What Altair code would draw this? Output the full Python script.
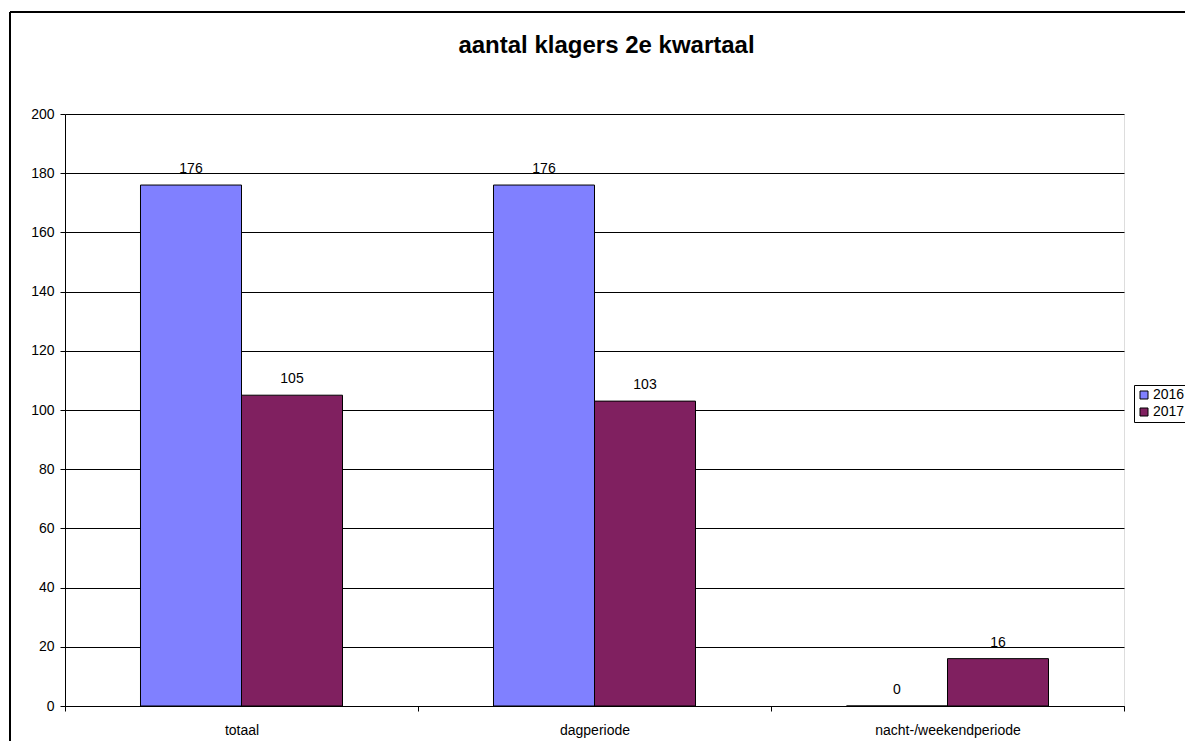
import altair as alt
import pandas as pd

categories = ["totaal", "dagperiode", "nacht-/weekendperiode"]
years = ["2016", "2017"]
v2016 = [176, 176, 0]
v2017 = [105, 103, 16]
colors = ["#8080FF", "#802060"]
y_ticks = [0, 20, 40, 60, 80, 100, 120, 140, 160, 180, 200]

rows = []
for c, a, b in zip(categories, v2016, v2017):
    rows.append({"category": c, "year": "2016", "value": a})
    rows.append({"category": c, "year": "2017", "value": b})
df = pd.DataFrame(rows)

FONT = "Liberation Sans"

x_enc = alt.X("category:N", sort=categories,
              scale=alt.Scale(paddingInner=0, paddingOuter=0),
              axis=alt.Axis(title=None, labelAngle=0, tickBand="extent",
                            domainColor="black", tickColor="black", tickSize=5,
                            labelPadding=12, grid=False, labelFontSize=14,
                            labelFont=FONT, labelColor="black"))
xo_enc = alt.XOffset("year:N", sort=years,
                     scale=alt.Scale(paddingOuter=0.7475, paddingInner=0))
y_enc = alt.Y("value:Q", scale=alt.Scale(domain=[0, 200], nice=False),
              axis=alt.Axis(title=None, values=y_ticks, tickSize=5, labelPadding=6,
                            domainColor="black", tickColor="black",
                            gridColor="black", gridWidth=1, labelFontSize=14,
                            labelFont=FONT, labelColor="black"))

base = alt.Chart(df)

bars = base.mark_bar(stroke="black", strokeWidth=1).encode(
    x=x_enc, xOffset=xo_enc, y=y_enc,
    color=alt.Color("year:N", sort=years,
                    scale=alt.Scale(domain=years, range=colors),
                    legend=alt.Legend(title=None, orient="none", legendX=1069, legendY=271,
                                      symbolType="square", symbolSize=64,
                                      symbolStrokeColor="black", symbolStrokeWidth=1,
                                      labelFontSize=14, labelFont=FONT, labelColor="black",
                                      strokeColor="black", padding=3, rowPadding=3,
                                      labelOffset=2, fillColor="white")),
)

labels = base.mark_text(fontSize=14, font=FONT, color="black",
                        baseline="alphabetic", dy=-12).encode(
    x=x_enc, xOffset=xo_enc, y=y_enc, text="value:Q"
)

frame_df = pd.DataFrame([{"k": 1}])
frame_left = alt.Chart(frame_df).mark_rule(color="black", strokeWidth=2).encode(
    x=alt.value(-55), y=alt.value(-102), y2=alt.value(700)
)
frame_top = alt.Chart(frame_df).mark_rule(color="black", strokeWidth=2).encode(
    x=alt.value(-55), x2=alt.value(1200), y=alt.value(-102)
)

chart = alt.layer(bars, labels, frame_left, frame_top).properties(
    width=1059, height=592,
    title=alt.TitleParams("aantal klagers 2e kwartaal", fontSize=24, fontWeight="bold",
                          font=FONT, anchor="middle", dx=12, offset=-66,
                          baseline="alphabetic", color="black"),
    autosize=alt.AutoSizeParams(type="none"),
    padding={"left": 57, "top": 106, "right": 61, "bottom": 35},
).configure_view(stroke="#808080", strokeWidth=1.5).configure(background="white")

chart.save("out.html", embed_options={"renderer": "svg", "actions": False})
